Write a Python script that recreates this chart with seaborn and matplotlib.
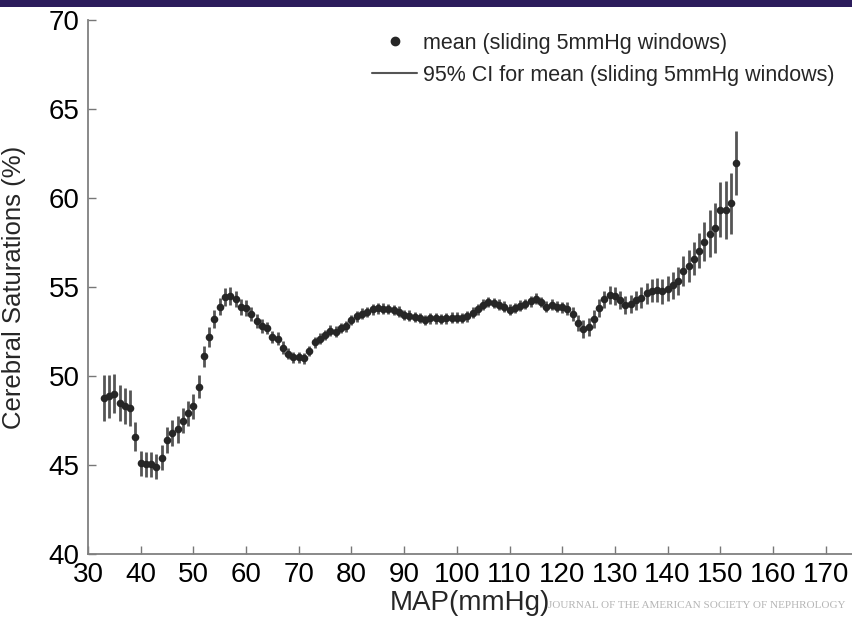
import pandas as pd
import matplotlib
matplotlib.use("Agg")
import matplotlib.pyplot as plt
import seaborn as sns
from matplotlib.lines import Line2D
from matplotlib.patches import Rectangle

# MAP window centres (mmHg), one point per 1 mmHg step
map_mmhg = list(range(33, 154))

# mean cerebral saturation (%) per sliding window
mean_sat = [
    48.75, 48.85, 49.0, 48.5, 48.3, 48.2, 46.6, 45.1, 45.05, 45.05,      # 33-42
    44.9, 45.4, 46.4, 46.8, 47.0, 47.5, 47.9, 48.3, 49.4, 51.1,          # 43-52
    52.2, 53.2, 53.9, 54.45, 54.5, 54.3, 53.9, 53.8, 53.5, 53.1,         # 53-62
    52.8, 52.7, 52.2, 52.1, 51.6, 51.25, 51.05, 51.05, 51.0, 51.4,       # 63-72
    51.9, 52.1, 52.3, 52.55, 52.5, 52.7, 52.8, 53.15, 53.35, 53.5,       # 73-82
    53.6, 53.75, 53.8, 53.78, 53.76, 53.7, 53.62, 53.42, 53.38, 53.32,   # 83-92
    53.25, 53.15, 53.24, 53.24, 53.2, 53.24, 53.28, 53.27, 53.25, 53.35, # 93-102
    53.55, 53.75, 54.0, 54.15, 54.1, 54.0, 53.9, 53.72, 53.82, 53.95,    # 103-112
    54.05, 54.2, 54.35, 54.15, 53.9, 54.0, 53.9, 53.85, 53.78, 53.5,     # 113-122
    53.0, 52.65, 52.75, 53.2, 53.8, 54.3, 54.55, 54.5, 54.25, 54.0,      # 123-132
    54.05, 54.25, 54.4, 54.65, 54.8, 54.83, 54.75, 54.9, 55.1, 55.35,    # 133-142
    55.9, 56.2, 56.6, 57.05, 57.55, 58.0, 58.3, 59.35, 59.33, 59.7,      # 143-152
    61.95,                                                               # 153
]

# half width of the 95% CI for the mean
ci_half = [
    1.3, 1.2, 1.1, 1.0, 1.0, 1.0, 0.8, 0.7, 0.7, 0.7,
    0.7, 0.7, 0.75, 0.75, 0.75, 0.7, 0.7, 0.7, 0.65, 0.6,
    0.55, 0.5, 0.5, 0.5, 0.5, 0.45, 0.45, 0.45, 0.4, 0.4,
    0.4, 0.35, 0.35, 0.35, 0.35, 0.3, 0.3, 0.3, 0.3, 0.3,
    0.3, 0.3, 0.3, 0.3, 0.3, 0.3, 0.3, 0.3, 0.3, 0.3,
    0.3, 0.3, 0.3, 0.3, 0.3, 0.3, 0.3, 0.3, 0.3, 0.3,
    0.3, 0.3, 0.3, 0.3, 0.3, 0.3, 0.3, 0.3, 0.3, 0.3,
    0.3, 0.3, 0.3, 0.3, 0.3, 0.3, 0.3, 0.3, 0.3, 0.3,
    0.3, 0.3, 0.3, 0.3, 0.3, 0.3, 0.3, 0.3, 0.35, 0.4,
    0.45, 0.5, 0.5, 0.5, 0.5, 0.5, 0.5, 0.5, 0.5, 0.5,
    0.5, 0.55, 0.6, 0.6, 0.65, 0.65, 0.7, 0.7, 0.75, 0.8,
    0.85, 0.9, 0.95, 1.0, 1.1, 1.3, 1.4, 1.55, 1.65, 1.7,
    1.8,
]

x_ticks = [30, 40, 50, 60, 70, 80, 90, 100, 110, 120, 130, 140, 150, 160, 170]
y_ticks = [40, 45, 50, 55, 60, 65, 70]

df = pd.DataFrame({"MAP": map_mmhg, "mean": mean_sat, "ci": ci_half})
df["lo"] = df["mean"] - df["ci"]
df["hi"] = df["mean"] + df["ci"]

sns.set_style("ticks")
plt.rcParams["font.family"] = ["Liberation Sans", "DejaVu Sans"]

fig = plt.figure(figsize=(8.52, 6.19), dpi=100)
ax = fig.add_axes([88 / 852, 1 - 554 / 619, 1 - 88 / 852, (554 - 20) / 619])

# slide header band
fig.patches.append(Rectangle((0, 1 - 7 / 619), 1, 7 / 619, transform=fig.transFigure,
                             facecolor="#2c1c5c", edgecolor="none", zorder=0))

pt_color = "#262626"
bar_color = "#555555"

ax.vlines(df["MAP"], df["lo"], df["hi"], color=bar_color, linewidth=2.0, zorder=2)
sns.scatterplot(data=df, x="MAP", y="mean", ax=ax, color=pt_color, s=30,
                edgecolor=pt_color, linewidth=0, zorder=3, legend=False)

ax.set_xlim(30, 175)
ax.set_ylim(40, 70)
ax.set_xticks(x_ticks)
ax.set_yticks(y_ticks)
ax.tick_params(direction="in", length=6, width=1, color="#777777",
               labelsize=20, labelcolor="black")
ax.tick_params(axis="x", pad=6)
ax.tick_params(axis="y", pad=6)
for side in ["top", "right"]:
    ax.spines[side].set_visible(False)
for side in ["left", "bottom"]:
    ax.spines[side].set_color("#808080")
    ax.spines[side].set_linewidth(1.3)

ax.set_xlabel("MAP(mmHg)", fontsize=20, labelpad=1)
ax.set_ylabel("Cerebral Saturations (%)", fontsize=18.5, labelpad=16)

handles = [
    Line2D([], [], linestyle="none", marker="o", color=pt_color, markersize=6),
    Line2D([], [], color=bar_color, linewidth=1.5),
]
labels = ["mean (sliding 5mmHg windows)", "95% CI for mean (sliding 5mmHg windows)"]
fig.legend(handles, labels, loc="upper left", bbox_to_anchor=(372 / 852, 1 - 33 / 619),
           frameon=False, fontsize=15.5, handlelength=2.1, handletextpad=0.25,
           labelspacing=0.5, borderpad=0, borderaxespad=0)

fig.text(548 / 852, 1 - 606 / 619, "JOURNAL OF THE AMERICAN SOCIETY OF NEPHROLOGY",
         fontsize=8.0, color="#b5b5b5", family=["Liberation Serif", "DejaVu Serif"],
         va="center", ha="left")

fig.savefig("out.png", dpi=100)
